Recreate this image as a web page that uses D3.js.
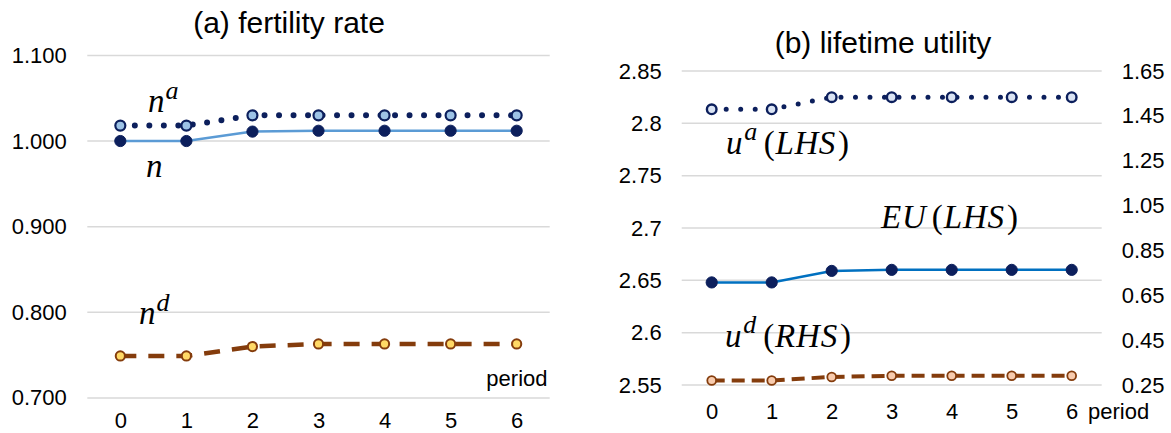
<!DOCTYPE html>
<html><head><meta charset="utf-8">
<script src="https://cdn.jsdelivr.net/npm/d3@7"></script>
<style>
html,body{margin:0;padding:0;background:#fff;}
svg{display:block;}
text{font-family:"Liberation Sans",Arial,sans-serif;fill:#000;}
.math{font-family:"Liberation Serif","Times New Roman",serif;}
</style></head>
<body>
<svg id="chart" width="1171" height="433"></svg>
<script>
// ---- data ----
const periods = [0, 1, 2, 3, 4, 5, 6];
const nVals  = [1.000, 1.000, 1.011, 1.012, 1.012, 1.012, 1.012];
const naVals = [1.018, 1.018, 1.030, 1.030, 1.030, 1.030, 1.030];
const ndVals = [0.749, 0.749, 0.760, 0.763, 0.763, 0.763, 0.763];
const uaVals = [2.8134, 2.8134, 2.825, 2.825, 2.825, 2.825, 2.825];
const euVals = [2.648, 2.648, 2.659, 2.660, 2.660, 2.660, 2.660];
const udVals = [0.270, 0.270, 0.286, 0.291, 0.291, 0.291, 0.291];
const leftTicks = [0.7, 0.8, 0.9, 1.0, 1.1];
const lhsTicks = [2.55, 2.6, 2.65, 2.7, 2.75, 2.8, 2.85];
const rhsTicks = [0.25, 0.45, 0.65, 0.85, 1.05, 1.25, 1.45, 1.65];
const titleA = "(a) fertility rate";
const titleB = "(b) lifetime utility";
const xTitle = "period";

const NAVY = "#0c1f5c", BROWN = "#843c0c", GRID = "#d9d9d9";
const svg = d3.select("#chart");

function grid(g, ticks, y, x0, x1) {
  g.selectAll(null).data(ticks).enter().append("line")
    .attr("x1", x0).attr("x2", x1)
    .attr("y1", d => y(d)).attr("y2", d => y(d))
    .attr("stroke", GRID).attr("stroke-width", 1.5);
}
function styleAxis(g) {
  g.select(".domain").remove();
  g.selectAll("text").style("font-size", "22px").attr("fill", "#000")
    .style("font-family", '"Liberation Sans",Arial,sans-serif');
}
function drawLine(g, vals, x, y, color, width, dash, cap) {
  const line = d3.line().x((d, i) => x(periods[i])).y(d => y(d));
  g.append("path").datum(vals).attr("d", line)
    .attr("fill", "none").attr("stroke", color).attr("stroke-width", width)
    .attr("stroke-dasharray", dash).attr("stroke-linecap", cap || "butt")
    .attr("stroke-linejoin", "round");
}
function drawMarkers(g, vals, x, y, r, fill, stroke, sw) {
  g.selectAll(null).data(vals).enter().append("circle")
    .attr("cx", (d, i) => x(periods[i])).attr("cy", d => y(d))
    .attr("r", r).attr("fill", fill).attr("stroke", stroke).attr("stroke-width", sw);
}
function mathLabel(parts, xPos, yPos, len) {
  const t = svg.append("text").attr("class", "math").attr("x", xPos).attr("y", yPos);
  parts.forEach(p => {
    const ts = t.append("tspan").text(p.t)
      .style("font-size", (p.fs || 33) + "px")
      .style("font-style", p.it === false ? "normal" : "italic");
    if (p.dy) ts.attr("dy", p.dy);
    if (p.dx) ts.attr("dx", p.dx);
  });
  if (len) t.attr("textLength", len).attr("lengthAdjust", "spacing");
}

// ================= Panel (a) =================
const xA = d3.scalePoint().domain(periods).range([87.3, 549.7]).padding(0.5);
const yA = d3.scaleLinear().domain([0.7, 1.1]).range([397.9, 55.4]);
const gA = svg.append("g");
grid(gA, leftTicks, yA, 87.3, 549.7);
const axA = gA.append("g").attr("transform", "translate(87.3,0)")
  .call(d3.axisLeft(yA).tickValues(leftTicks).tickSize(0).tickPadding(20.6).tickFormat(d3.format(".3f")));
styleAxis(axA);
const axAx = gA.append("g").attr("transform", "translate(0,397.9)")
  .call(d3.axisBottom(xA).tickSize(0).tickPadding(14));
styleAxis(axAx);

drawLine(gA, ndVals, xA, yA, BROWN, 4.5, "16 12");
drawLine(gA, nVals, xA, yA, "#5b9bd5", 2.5, null);
drawLine(gA, naVals, xA, yA, NAVY, 6, "0 14.5", "round");
drawMarkers(gA, ndVals, xA, yA, 4.6, "#ffd966", BROWN, 2);
drawMarkers(gA, nVals, xA, yA, 5.6, NAVY, NAVY, 1);
drawMarkers(gA, naVals, xA, yA, 5, "#9dc3e6", NAVY, 2.2);

svg.append("text").attr("x", 289).attr("y", 33).attr("text-anchor", "middle")
  .style("font-size", "30px").text(titleA);
svg.append("text").attr("x", 547.5).attr("y", 385.5).attr("text-anchor", "end")
  .style("font-size", "22px").text(xTitle);

mathLabel([{t: "n"}, {t: "a", fs: 26, dy: -13, dx: 1}], 148, 112.3);
mathLabel([{t: "n"}], 146, 177);
mathLabel([{t: "n"}, {t: "d", fs: 26, dy: -13, dx: 1}], 139, 324);

// ================= Panel (b) =================
const xB = d3.scalePoint().domain(periods).range([681.7, 1101.7]).padding(0.5);
const yBL = d3.scaleLinear().domain([2.55, 2.85]).range([385, 71]);
const yBR = d3.scaleLinear().domain([0.25, 1.65]).range([385, 71]);
const gB = svg.append("g");
grid(gB, lhsTicks, yBL, 681.7, 1101.7);
const axBL = gB.append("g").attr("transform", "translate(681.7,0)")
  .call(d3.axisLeft(yBL).tickValues(lhsTicks).tickSize(0).tickPadding(20).tickFormat(d => String(+d.toFixed(2))));
styleAxis(axBL);
const axBR = gB.append("g").attr("transform", "translate(1102.7,0)")
  .call(d3.axisRight(yBR).tickValues(rhsTicks).tickSize(0).tickPadding(19).tickFormat(d3.format(".2f")));
styleAxis(axBR);
const axBx = gB.append("g").attr("transform", "translate(0,385)")
  .call(d3.axisBottom(xB).tickSize(0).tickPadding(18.4));
styleAxis(axBx);

drawLine(gB, udVals, xB, yBR, BROWN, 4, "13 7");
drawLine(gB, euVals, xB, yBL, "#0070c0", 2.5, null);
drawLine(gB, uaVals, xB, yBL, NAVY, 5, "0 14.5", "round");
drawMarkers(gB, udVals, xB, yBR, 4.4, "#f8cbad", BROWN, 1.8);
drawMarkers(gB, euVals, xB, yBL, 5.6, NAVY, NAVY, 1);
drawMarkers(gB, uaVals, xB, yBL, 4.8, "#dae3f3", NAVY, 2.4);

svg.append("text").attr("x", 883).attr("y", 53.3).attr("text-anchor", "middle")
  .style("font-size", "30px").text(titleB);
svg.append("text").attr("x", 1088).attr("y", 419).attr("text-anchor", "start")
  .style("font-size", "22px").text(xTitle);

mathLabel([{t: "u"}, {t: "a", fs: 26, dy: -14, dx: 1}, {t: "(", it: false, dy: 14, dx: 6}, {t: "LHS"}, {t: ")", it: false, dx: 2}], 726, 154, 123);
mathLabel([{t: "EU"}, {t: "(", it: false, dx: 5}, {t: "LHS"}, {t: ")", it: false, dx: 2}], 881, 228, 137);
mathLabel([{t: "u"}, {t: "d", fs: 26, dy: -14, dx: 1}, {t: "(", it: false, dy: 14, dx: 6}, {t: "RHS"}, {t: ")", it: false, dx: 2}], 725, 346.7, 126);
</script>
</body></html>
